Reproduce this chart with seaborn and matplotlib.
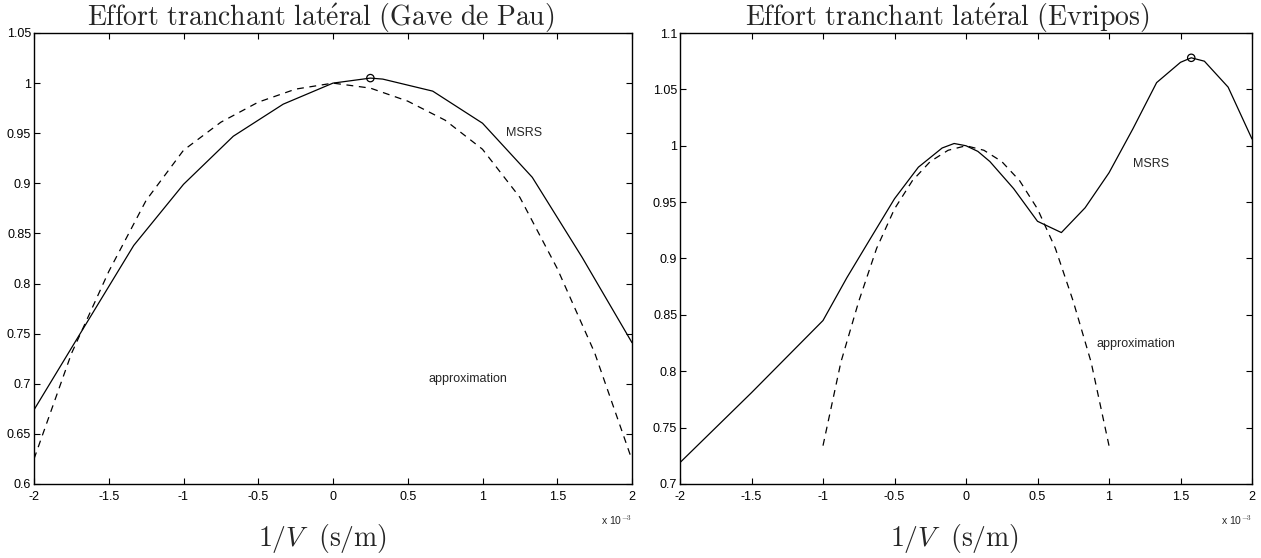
import matplotlib
matplotlib.use("Agg")
import matplotlib.pyplot as plt
import seaborn as sns
import numpy as np

# ---------------- data (x in units of 1e-3 s/m) ----------------
# Gave de Pau
gp_msrs_x = [-2.0, -1.667, -1.333, -1.0, -0.667, -0.333, 0.0, 0.25, 0.333, 0.667, 1.0, 1.333, 1.667, 2.0]
gp_msrs_y = [0.674, 0.756, 0.838, 0.899, 0.947, 0.979, 1.0, 1.005, 1.004, 0.992, 0.960, 0.906, 0.826, 0.741]
gp_approx_x = [-2.0, -1.75, -1.5, -1.25, -1.0, -0.75, -0.5, -0.25, 0.0, 0.25, 0.5, 0.75, 1.0, 1.25, 1.5, 1.75, 2.0]
gp_approx_y = [0.625, 0.730, 0.812, 0.883, 0.933, 0.961, 0.981, 0.994, 1.0, 0.995, 0.982, 0.963, 0.934, 0.886, 0.815, 0.731, 0.624]
gp_max_x = [0.25]
gp_max_y = [1.005]

# Evripos
ev_msrs_x = [-2.0, -1.5, -1.0, -0.833, -0.667, -0.5, -0.333, -0.167, -0.083, 0.0, 0.083, 0.167,
             0.333, 0.5, 0.667, 0.833, 1.0, 1.167, 1.333, 1.5, 1.575, 1.667, 1.833, 2.0]
ev_msrs_y = [0.719, 0.781, 0.845, 0.883, 0.918, 0.953, 0.981, 0.998, 1.002, 1.0, 0.995, 0.986,
             0.962, 0.933, 0.923, 0.945, 0.976, 1.015, 1.056, 1.074, 1.078, 1.075, 1.052, 1.006]
ev_approx_x = [-1.0, -0.875, -0.75, -0.625, -0.5, -0.375, -0.25, -0.125, 0.0,
               0.125, 0.25, 0.375, 0.5, 0.625, 0.75, 0.875, 1.0]
ev_approx_y = [0.734, 0.808, 0.862, 0.909, 0.944, 0.969, 0.986, 0.996, 1.0,
               0.996, 0.986, 0.969, 0.944, 0.909, 0.862, 0.808, 0.734]
ev_max_x = [1.575]
ev_max_y = [1.078]

x_ticks = [-2, -1.5, -1, -0.5, 0, 0.5, 1, 1.5, 2]
x_ticklabels = ["-2", "-1.5", "-1", "-0.5", "0", "0.5", "1", "1.5", "2"]
gp_yticks = [0.6, 0.65, 0.7, 0.75, 0.8, 0.85, 0.9, 0.95, 1.0, 1.05]
gp_yticklabels = ["0.6", "0.65", "0.7", "0.75", "0.8", "0.85", "0.9", "0.95", "1", "1.05"]
ev_yticks = [0.7, 0.75, 0.8, 0.85, 0.9, 0.95, 1.0, 1.05, 1.1]
ev_yticklabels = ["0.7", "0.75", "0.8", "0.85", "0.9", "0.95", "1", "1.05", "1.1"]

title_gp = r"$\mathrm{Effort\ tranchant\ lat\acute{e}ral\ (Gave\ de\ Pau)}$"
title_ev = r"$\mathrm{Effort\ tranchant\ lat\acute{e}ral\ (Evripos)}$"
xlabel = r"$1/V\ \ \mathrm{(s/m)}$"

# ---------------- style ----------------
sns.set_style("ticks")
plt.rcParams["font.family"] = ["Liberation Sans", "DejaVu Sans"]
plt.rcParams["mathtext.fontset"] = "cm"

W, H = 1261, 558
fig = plt.figure(figsize=(W / 100, H / 100), dpi=100)
fig.patch.set_facecolor("white")

top_px, bot_px = 33, 484
ax1 = fig.add_axes([34 / W, 1 - bot_px / H, (632 - 34) / W, (bot_px - top_px) / H])
ax2 = fig.add_axes([680 / W, 1 - bot_px / H, (1252 - 680) / W, (bot_px - top_px) / H])


def draw(ax, mx, my, axx, ayy, px, py, ylim, yt, ytl, title, title_x, xlab_x,
         msrs_pos, approx_pos):
    sns.lineplot(x=mx, y=my, ax=ax, color="black", linewidth=0.9, sort=False,
                 estimator=None)
    sns.lineplot(x=axx, y=ayy, ax=ax, color="black", linewidth=0.9, sort=False,
                 estimator=None, linestyle=(0, (5.5, 4.5)))
    sns.scatterplot(x=px, y=py, ax=ax, marker="o", s=28, facecolor="none",
                    edgecolor="black", linewidth=0.9, zorder=5)
    ax.set_xlim(-2, 2)
    ax.set_ylim(*ylim)
    ax.set_xticks(x_ticks)
    ax.set_xticklabels(x_ticklabels)
    ax.set_yticks(yt)
    ax.set_yticklabels(ytl)
    ax.tick_params(direction="in", length=4, width=0.8, labelsize=9,
                   top=True, right=True, colors="black")
    ax.tick_params(axis="x", pad=5)
    ax.tick_params(axis="y", pad=2)
    for s in ax.spines.values():
        s.set_visible(True)
        s.set_linewidth(1.0)
        s.set_color("black")
    ax.set_title(title, fontsize=20, pad=5, x=title_x)
    ax.set_xlabel(xlabel, fontsize=20, labelpad=14)
    ax.xaxis.label.set_x(xlab_x)
    ax.set_ylabel("")
    ax.text(msrs_pos[0], msrs_pos[1], "MSRS", fontsize=9, ha="left", va="center")
    ax.text(approx_pos[0], approx_pos[1], "approximation", fontsize=9, ha="left", va="center")
    ax.text(1.0, -0.08, r"x 10$^{-3}$", transform=ax.transAxes, fontsize=7.5,
            ha="right", va="center")
    ax.grid(False)


draw(ax1, gp_msrs_x, gp_msrs_y, gp_approx_x, gp_approx_y, gp_max_x, gp_max_y,
     (0.6, 1.05), gp_yticks, gp_yticklabels, title_gp, 0.48, 0.4825,
     (1.16, 0.95), (0.64, 0.705))
draw(ax2, ev_msrs_x, ev_msrs_y, ev_approx_x, ev_approx_y, ev_max_x, ev_max_y,
     (0.7, 1.1), ev_yticks, ev_yticklabels, title_ev, 0.467, 0.48,
     (1.17, 0.984), (0.91, 0.824))

fig.savefig("out.png", dpi=100, facecolor="white")
